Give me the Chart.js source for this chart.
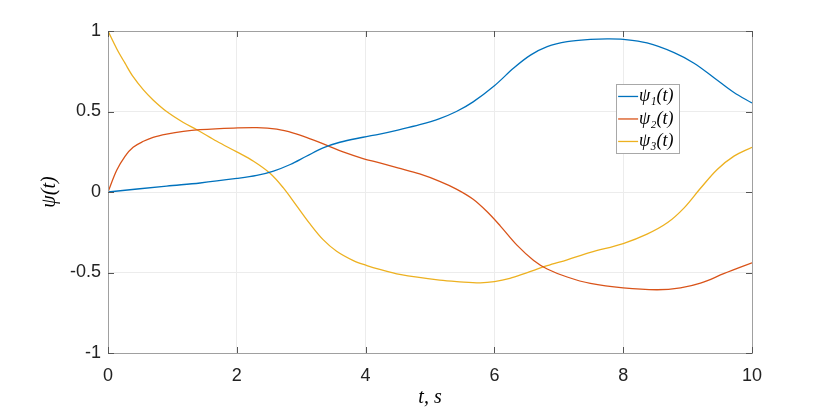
<!DOCTYPE html>
<html><head><meta charset="utf-8">
<script src="https://cdn.jsdelivr.net/npm/chart.js@4"></script>
<style>html,body{margin:0;padding:0;background:#fff}#wrap{width:830px;height:413px}</style>
</head><body><div id="wrap"><canvas id="c" width="830" height="413"></canvas></div>
<script>
const seriesLabels = ['ψ\u2081(t)', 'ψ\u2082(t)', 'ψ\u2083(t)'];
const seriesColors = ['#0072BD', '#D95319', '#EDB120'];

const t1 = [0, 0.91, 1.43, 2.0, 2.31, 2.57, 2.83, 3.08, 3.34, 3.6, 3.96, 4.22, 4.5, 4.84, 5.15, 5.41, 5.67, 6.0, 6.3, 6.56, 6.82, 7.13, 7.49, 7.75, 8.0, 8.37, 8.79, 9.1, 9.41, 9.72, 10];
const psi1 = [0, 0.037, 0.056, 0.084, 0.103, 0.13, 0.171, 0.222, 0.274, 0.309, 0.34, 0.36, 0.385, 0.418, 0.456, 0.50, 0.56, 0.66, 0.77, 0.85, 0.903, 0.934, 0.948, 0.951, 0.948, 0.926, 0.866, 0.80, 0.71, 0.618, 0.553];

const t2 = [0, 0.135, 0.264, 0.39, 0.55, 0.70, 0.91, 1.17, 1.43, 1.95, 2.31, 2.62, 2.88, 3.14, 3.4, 3.65, 3.96, 4.22, 4.5, 4.84, 5.15, 5.41, 5.67, 5.88, 6.09, 6.35, 6.61, 6.82, 7.13, 7.49, 8.0, 8.53, 8.89, 9.2, 9.57, 10];
const psi2 = [0, 0.135, 0.222, 0.278, 0.315, 0.34, 0.36, 0.377, 0.387, 0.397, 0.40, 0.39, 0.366, 0.33, 0.29, 0.249, 0.208, 0.181, 0.15, 0.112, 0.066, 0.018, -0.045, -0.12, -0.21, -0.33, -0.425, -0.478, -0.528, -0.568, -0.596, -0.607, -0.595, -0.566, -0.506, -0.44];

const t3 = [0, 0.135, 0.264, 0.39, 0.55, 0.70, 0.91, 1.17, 1.38, 1.69, 2.0, 2.26, 2.52, 2.72, 2.93, 3.14, 3.34, 3.55, 3.81, 4.02, 4.22, 4.53, 5.15, 5.46, 5.78, 6.0, 6.24, 6.5, 6.82, 7.13, 7.49, 8.0, 8.37, 8.69, 8.95, 9.2, 9.46, 9.72, 10];
const psi3 = [1, 0.89, 0.80, 0.716, 0.634, 0.572, 0.50, 0.432, 0.387, 0.315, 0.249, 0.191, 0.115, 0.027, -0.086, -0.20, -0.296, -0.368, -0.426, -0.457, -0.481, -0.512, -0.548, -0.558, -0.564, -0.557, -0.537, -0.502, -0.458, -0.421, -0.375, -0.32, -0.262, -0.19, -0.097, 0.023, 0.14, 0.223, 0.278];

const xTicks = [0, 2, 4, 6, 8, 10];
const yTicks = [-1, -0.5, 0, 0.5, 1];
const xTitle = 't, s';
const yTitle = 'ψ(t)';

const tArrays = [t1, t2, t3];
const yArrays = [psi1, psi2, psi3];

const datasets = yArrays.map((ys, i) => ({
  label: seriesLabels[i],
  data: ys.map((v, k) => ({x: tArrays[i][k], y: v})),
  borderColor: seriesColors[i],
  backgroundColor: seriesColors[i],
  borderWidth: 1.3,
  pointRadius: 0,
  tension: 0.35,
  fill: false
}));

const boxPlugin = {
  id: 'boxPlugin',
  afterDraw(chart) {
    const {ctx, chartArea: a, scales} = chart;
    ctx.save();
    ctx.strokeStyle = '#a0a0a0';
    ctx.lineWidth = 1;
    ctx.strokeRect(Math.round(a.left) + 0.5, Math.round(a.top) + 0.5, Math.round(a.right - a.left), Math.round(a.bottom - a.top));
    ctx.strokeStyle = '#555';
    ctx.beginPath();
    const tl = 6;
    xTicks.forEach(v => {
      const px = Math.round(scales.x.getPixelForValue(v)) + 0.5;
      ctx.moveTo(px, a.bottom); ctx.lineTo(px, a.bottom - tl);
      ctx.moveTo(px, a.top); ctx.lineTo(px, a.top + tl);
    });
    yTicks.forEach(v => {
      const py = Math.round(scales.y.getPixelForValue(v)) + 0.5;
      ctx.moveTo(a.left, py); ctx.lineTo(a.left + tl, py);
      ctx.moveTo(a.right, py); ctx.lineTo(a.right - tl, py);
    });
    ctx.stroke();
    // legend
    const lx = scales.x.getPixelForValue(7.89);
    const ly = scales.y.getPixelForValue(0.671);
    const w = 63, rowH = 22.5, h = 69;
    ctx.fillStyle = '#fff';
    ctx.fillRect(lx, ly, w, h);
    ctx.strokeStyle = '#a8a8a8';
    ctx.strokeRect(Math.round(lx) + 0.5, Math.round(ly) + 0.5, w, h);
    ctx.font = 'italic 18px "Liberation Serif", "DejaVu Serif", serif';
    ctx.textBaseline = 'middle';
    ctx.fillStyle = '#000';
    chart.data.datasets.forEach((ds, i) => {
      const cy = ly + 12.5 + i * rowH;
      ctx.strokeStyle = ds.borderColor;
      ctx.lineWidth = 1.3;
      ctx.beginPath(); ctx.moveTo(lx + 2, cy); ctx.lineTo(lx + 22, cy); ctx.stroke();
      ctx.fillText(ds.label, lx + 23, cy);
    });
    ctx.restore();
  }
};

new Chart(document.getElementById('c'), {
  type: 'line',
  data: {datasets},
  options: {
    responsive: false,
    animation: false,
    layout: {padding: {left: 0, right: 78, top: 31, bottom: 0}},
    plugins: {legend: {display: false}, tooltip: {enabled: false}},
    scales: {
      x: {
        type: 'linear', min: 0, max: 10,
        afterBuildTicks: s => { s.ticks = xTicks.map(v => ({value: v})); },
        afterFit: s => { s.height = 60; },
        grid: {color: '#ececec', drawTicks: false},
        border: {display: false},
        ticks: {color: '#222', padding: 12, font: {family: '"Liberation Sans", Arial, sans-serif', size: 18}, maxRotation: 0},
        title: {display: true, text: xTitle, color: '#000', padding: {top: 0, bottom: 3}, font: {family: '"Liberation Serif", "DejaVu Serif", serif', style: 'italic', size: 20}}
      },
      y: {
        type: 'linear', min: -1, max: 1,
        afterBuildTicks: s => { s.ticks = yTicks.map(v => ({value: v})); },
        afterFit: s => { s.width = 108; },
        grid: {color: '#ececec', drawTicks: false},
        border: {display: false},
        ticks: {color: '#222', padding: 7, font: {family: '"Liberation Sans", Arial, sans-serif', size: 18}, callback: v => String(v)},
        title: {display: true, text: yTitle, color: '#000', padding: {top: 38, bottom: 0}, font: {family: '"Liberation Serif", "DejaVu Serif", serif', style: 'italic', size: 20}}
      }
    }
  },
  plugins: [boxPlugin]
});
</script></body></html>
